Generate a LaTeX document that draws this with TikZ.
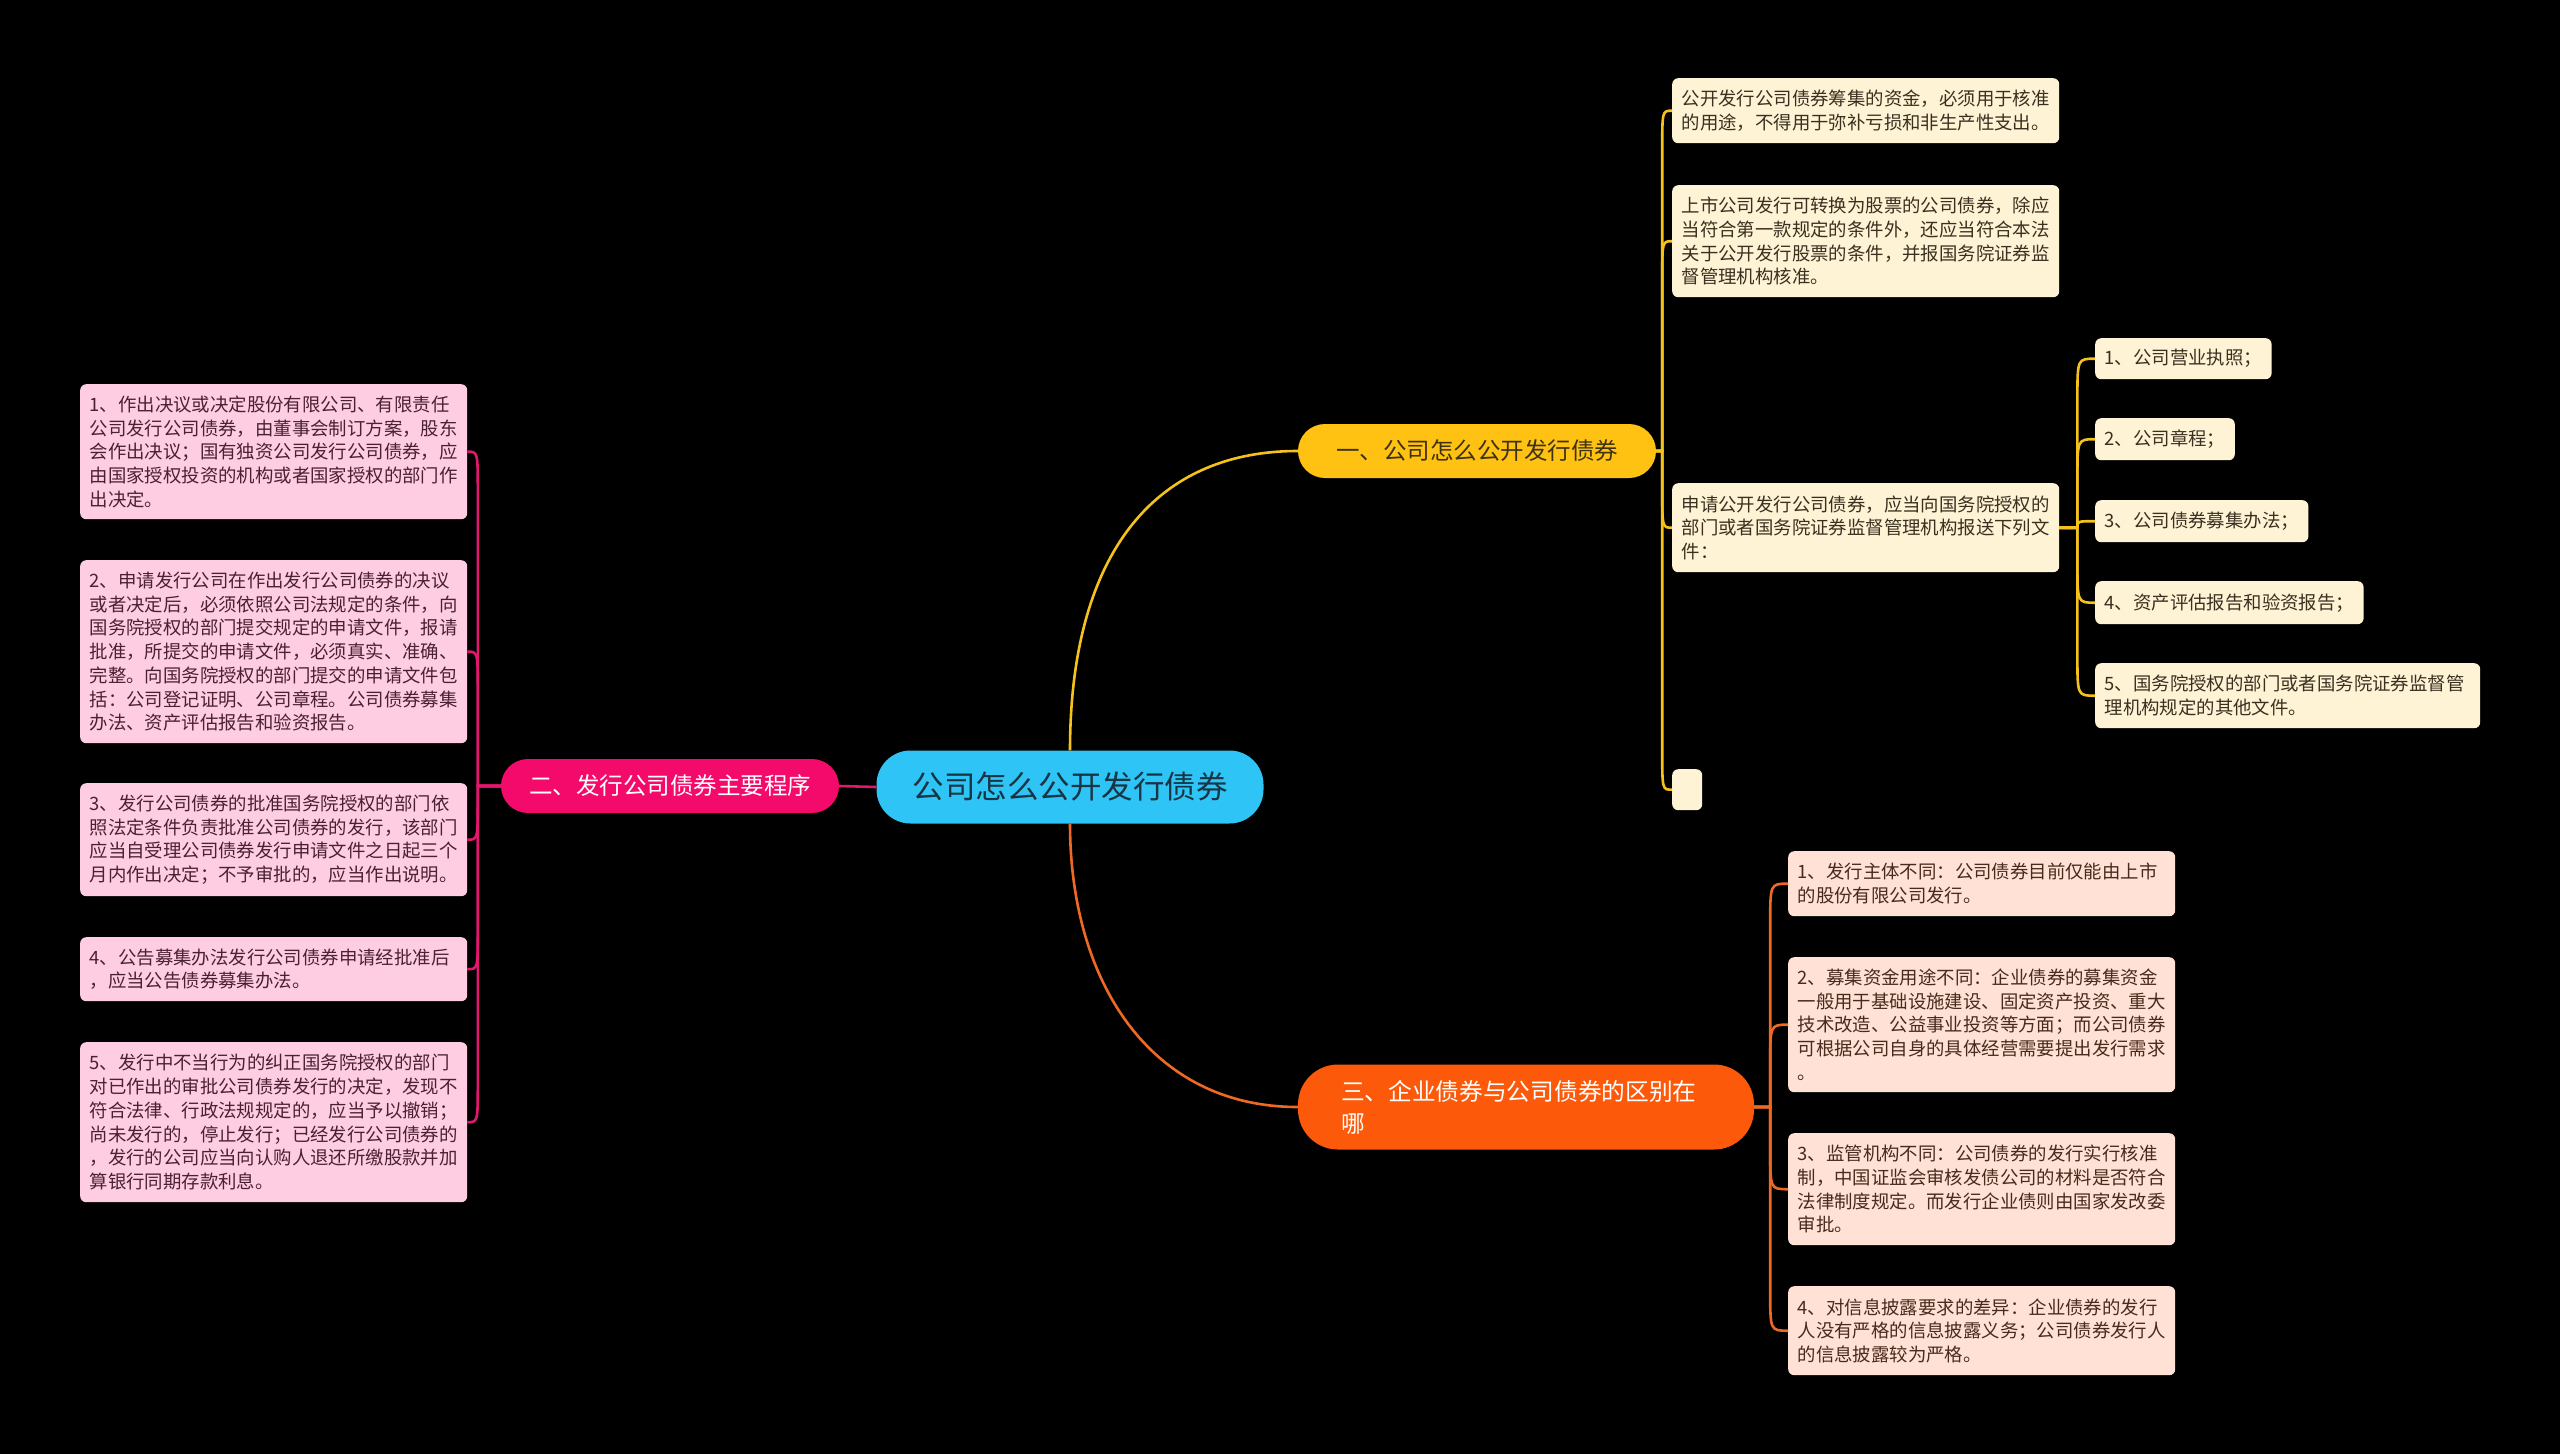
\documentclass[tikz,border=0pt]{standalone}
\usepackage{fontspec}
\setmainfont{Noto Sans CJK SC}
\usetikzlibrary{calc}
\definecolor{cyanc}{HTML}{2EC4F5}
\definecolor{ctext}{HTML}{173545}
\definecolor{ybr}{HTML}{FFC212}
\definecolor{ytext}{HTML}{3D3212}
\definecolor{yleaf}{HTML}{FFF3D6}
\definecolor{yline}{HTML}{F5C21C}
\definecolor{ylt}{HTML}{3A3020}
\definecolor{pbr}{HTML}{F30A6B}
\definecolor{pleaf}{HTML}{FFCDE1}
\definecolor{pline}{HTML}{E3176E}
\definecolor{plt}{HTML}{4A2034}
\definecolor{obr}{HTML}{FC5A0A}
\definecolor{oleaf}{HTML}{FFE2D5}
\definecolor{oline}{HTML}{EE6A24}
\definecolor{olt}{HTML}{4A2A1C}
\newcommand\leaffont{\fontsize{18.4pt}{23.7pt}\selectfont}
\tikzset{
  leafbase/.style={rounded corners=6pt, inner xsep=9.5pt, inner ysep=4pt, anchor=north west, align=left, font=\leaffont},
  yleafn/.style={leafbase, fill=yleaf, text=ylt},
  pleafn/.style={leafbase, fill=pleaf, text=plt},
  oleafn/.style={leafbase, fill=oleaf, text=olt},
  wide/.style 2 args={text width=#1, minimum height=#2},
  yl/.style={draw=yline, line width=2.6pt},
  pl/.style={draw=pline, line width=2.6pt},
  ol/.style={draw=oline, line width=2.6pt},
  elbow/.style={to path={
    let \p1=(\tikztostart), \p2=(\tikztotarget),
        \n1={min(40,abs(\y2-\y1))},
        \n2={ifthenelse(\y2>\y1,1,-1)} in
    -- (\x1+#1*1pt,\y1) -- (\x1+#1*1pt,\y2-\n2*\n1*1pt) .. controls (\x1+#1*1pt,\y2) .. (\p2)}}
}
\begin{document}
\begin{tikzpicture}[x=1pt,y=-1pt]
\useasboundingbox (0,0) rectangle (2560,1454);
\fill[black] (0,0) rectangle (2560,1454);

% central and branches
\node[fill=cyanc, text=ctext, rounded corners=34pt, minimum width=387pt, minimum height=73pt, inner sep=0pt, font=\fontsize{31.5pt}{36pt}\selectfont] (c) at (1070,787) {公司怎么公开发行债券};
\node[fill=ybr, text=ytext, rounded corners=27pt, minimum width=358pt, minimum height=54pt, inner sep=0pt, font=\fontsize{23.5pt}{28pt}\selectfont] (b1) at (1477,451) {一、公司怎么公开发行债券};
\node[fill=pbr, text=white, rounded corners=27pt, minimum width=338pt, minimum height=54pt, inner sep=0pt, font=\fontsize{23.5pt}{28pt}\selectfont] (b2) at (670,786) {二、发行公司债券主要程序};
\node[fill=obr, text=white, rounded corners=40pt, text width=370pt, inner xsep=43pt, inner ysep=0pt, minimum height=85pt, align=left, font=\fontsize{23.7pt}{32pt}\selectfont] (b3) at (1526,1107) {三、企业债券与公司债券的区别在\\哪};

% yellow leaves
\node[yleafn, wide={368pt}{65pt}] (l1) at (1672,78) {公开发行公司债券筹集的资金，必须用于核准\\的用途，不得用于弥补亏损和非生产性支出。};
\node[yleafn, wide={368pt}{112pt}] (l2) at (1672,185) {上市公司发行可转换为股票的公司债券，除应\\当符合第一款规定的条件外，还应当符合本法\\关于公开发行股票的条件，并报国务院证券监\\督管理机构核准。};
\node[yleafn, wide={368pt}{89pt}] (l3) at (1672,483) {申请公开发行公司债券，应当向国务院授权的\\部门或者国务院证券监督管理机构报送下列文\\件：};
\node[yleafn, inner sep=0pt, minimum width=30pt, minimum height=41pt] (l4) at (1672,769) {};

% yellow sub leaves
\node[yleafn, minimum height=41pt] (s1) at (2095,338) {1、公司营业执照；};
\node[yleafn, minimum height=42pt] (s2) at (2095,418) {2、公司章程；};
\node[yleafn, minimum height=42pt] (s3) at (2095,500) {3、公司债券募集办法；};
\node[yleafn, minimum height=43pt] (s4) at (2095,581) {4、资产评估报告和验资报告；};
\node[yleafn, wide={366pt}{65pt}] (s5) at (2095,663) {5、国务院授权的部门或者国务院证券监督管\\理机构规定的其他文件。};

% pink leaves
\node[pleafn, wide={368pt}{135pt}] (p1) at (80,384) {1、作出决议或决定股份有限公司、有限责任\\公司发行公司债券，由董事会制订方案，股东\\会作出决议；国有独资公司发行公司债券，应\\由国家授权投资的机构或者国家授权的部门作\\出决定。};
\node[pleafn, wide={368pt}{183pt}] (p2) at (80,560) {2、申请发行公司在作出发行公司债券的决议\\或者决定后，必须依照公司法规定的条件，向\\国务院授权的部门提交规定的申请文件，报请\\批准，所提交的申请文件，必须真实、准确、\\完整。向国务院授权的部门提交的申请文件包\\括：公司登记证明、公司章程。公司债券募集\\办法、资产评估报告和验资报告。};
\node[pleafn, wide={368pt}{113pt}] (p3) at (80,783) {3、发行公司债券的批准国务院授权的部门依\\照法定条件负责批准公司债券的发行，该部门\\应当自受理公司债券发行申请文件之日起三个\\月内作出决定；不予审批的，应当作出说明。};
\node[pleafn, wide={368pt}{64pt}] (p4) at (80,937) {4、公告募集办法发行公司债券申请经批准后\\，应当公告债券募集办法。};
\node[pleafn, wide={368pt}{160pt}] (p5) at (80,1042) {5、发行中不当行为的纠正国务院授权的部门\\对已作出的审批公司债券发行的决定，发现不\\符合法律、行政法规规定的，应当予以撤销；\\尚未发行的，停止发行；已经发行公司债券的\\，发行的公司应当向认购人退还所缴股款并加\\算银行同期存款利息。};

% orange leaves
\node[oleafn, wide={368pt}{65pt}] (o1) at (1788,851) {1、发行主体不同：公司债券目前仅能由上市\\的股份有限公司发行。};
\node[oleafn, wide={368pt}{135pt}] (o2) at (1788,957) {2、募集资金用途不同：企业债券的募集资金\\一般用于基础设施建设、固定资产投资、重大\\技术改造、公益事业投资等方面；而公司债券\\可根据公司自身的具体经营需要提出发行需求\\。};
\node[oleafn, wide={368pt}{112pt}] (o3) at (1788,1133) {3、监管机构不同：公司债券的发行实行核准\\制，中国证监会审核发债公司的材料是否符合\\法律制度规定。而发行企业债则由国家发改委\\审批。};
\node[oleafn, wide={368pt}{89pt}] (o4) at (1788,1286) {4、对信息披露要求的差异：企业债券的发行\\人没有严格的信息披露义务；公司债券发行人\\的信息披露较为严格。};

% main connectors
\draw[yl] (c.north) .. controls +(0,-190) and +(-148,0) .. (b1.west);
\draw[ol] (c.south) .. controls +(0,157) and +(-148,0) .. (b3.west);
\draw[pl] (c.west) -- (b2.east);

% yellow connectors
\foreach \t in {l1,l2,l3,l4} \draw[yl] (b1.east) to[elbow=6] (\t.west);
\foreach \t in {s1,s2,s3,s4,s5} \draw[yl] (l3.east) to[elbow=18] (\t.west);
% pink connectors
\foreach \t in {p1,p2,p3,p4,p5} \draw[pl] (b2.west) to[elbow=-23] (\t.east);
% orange connectors
\foreach \t in {o1,o2,o3,o4} \draw[ol] (b3.east) to[elbow=16] (\t.west);
\end{tikzpicture}
\end{document}
